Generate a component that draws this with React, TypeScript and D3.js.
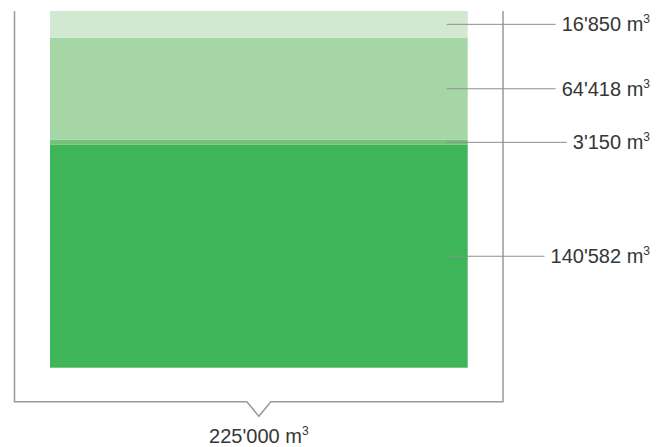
import React, { useEffect, useRef } from "react";
import * as d3 from "d3";

// Volume shares, stacked from the bottom up
const segmentNames = ["Base", "Reserve", "Buffer", "Top"];
const segmentValues = [140582, 3150, 64418, 16850];
const segmentColors = ["#3eb559", "#72c27a", "#a6d5a6", "#d2e8d0"];
const totalValue = 225000;
const unitLabel = "m";
const unitExponent = "3";

const W = 667;
const H = 447;

const fmt = d3.formatLocale({
  decimal: ".",
  thousands: "'",
  grouping: [3],
  currency: ["", ""],
}).format(",d");

export default function App() {
  const ref = useRef<SVGSVGElement | null>(null);

  useEffect(() => {
    const svg = d3.select(ref.current);
    svg.selectAll("*").remove();

    const barLeft = 50;
    const barRight = 467.7;
    const barTop = 11;
    const barBottom = 367.7;

    const y = d3.scaleLinear().domain([0, totalValue]).range([barBottom, barTop]);

    // cumulative stack
    let acc = 0;
    const stacked = segmentValues.map((v, i) => {
      const s = { name: segmentNames[i], value: v, y0: acc, y1: acc + v, color: segmentColors[i] };
      acc += v;
      return s;
    });

    const font = "'Liberation Sans', Arial, Helvetica, sans-serif";
    const textColor = "#363636";
    const lineColor = "#999999";

    // bracket
    const bLeft = 14.5;
    const bRight = 503;
    const bTop = 11;
    const bBottom = 401.7;
    const cx = (barLeft + barRight) / 2;
    const notchHalf = 12;
    const notchDepth = 14.5;
    const bracket = d3.path();
    bracket.moveTo(bLeft, bTop);
    bracket.lineTo(bLeft, bBottom);
    bracket.lineTo(cx - notchHalf, bBottom);
    bracket.lineTo(cx, bBottom + notchDepth);
    bracket.lineTo(cx + notchHalf, bBottom);
    bracket.lineTo(bRight, bBottom);
    bracket.lineTo(bRight, bTop);
    svg
      .append("path")
      .attr("d", bracket.toString())
      .attr("fill", "none")
      .attr("stroke", lineColor)
      .attr("stroke-width", 1.5);

    // bars
    svg
      .append("g")
      .selectAll("rect")
      .data(stacked)
      .join("rect")
      .attr("x", barLeft)
      .attr("width", barRight - barLeft)
      .attr("y", (d) => y(d.y1))
      .attr("height", (d) => y(d.y0) - y(d.y1))
      .attr("fill", (d) => d.color);

    // labels with leader lines
    const labelRight = 650;
    const leaderStart = 446.7;
    const lg = svg.append("g");
    stacked.forEach((d) => {
      const my = (y(d.y0) + y(d.y1)) / 2;
      const t = lg
        .append("text")
        .attr("x", labelRight)
        .attr("y", my + 7)
        .attr("text-anchor", "end")
        .attr("font-family", font)
        .attr("font-size", 20)
        .attr("fill", textColor);
      t.append("tspan").text(`${fmt(d.value)} ${unitLabel}`);
      t.append("tspan").attr("font-size", 12).attr("dy", -8).text(unitExponent);
      const bb = (t.node() as SVGTextElement).getBBox();
      lg.append("line")
        .attr("x1", leaderStart)
        .attr("x2", bb.x - 6)
        .attr("y1", my)
        .attr("y2", my)
        .attr("stroke", "#8f8f8f")
        .attr("stroke-width", 1);
    });

    // total
    const tt = svg
      .append("text")
      .attr("x", cx)
      .attr("y", 443)
      .attr("text-anchor", "middle")
      .attr("font-family", font)
      .attr("font-size", 20)
      .attr("fill", textColor);
    tt.append("tspan").text(`${fmt(totalValue)} ${unitLabel}`);
    tt.append("tspan").attr("font-size", 12).attr("dy", -8).text(unitExponent);
  }, []);

  return (
    <svg
      ref={ref}
      width={W}
      height={H}
      style={{ position: "absolute", left: 0, top: 0, background: "#fff" }}
    />
  );
}
